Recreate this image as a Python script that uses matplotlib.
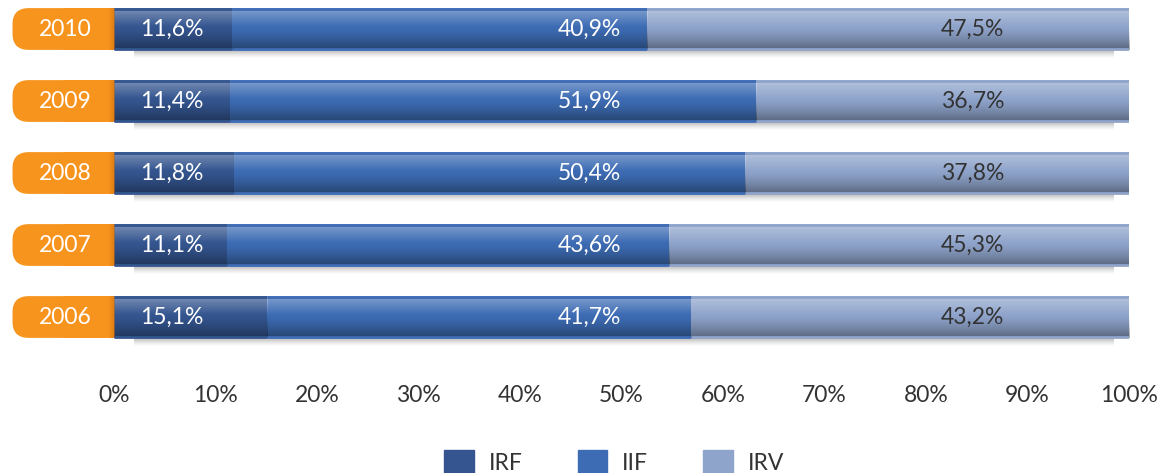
import matplotlib.pyplot as plt
import numpy as np
from matplotlib.patches import FancyBboxPatch, Patch
from matplotlib.colors import to_rgb

years = ['2006', '2007', '2008', '2009', '2010']
irf = [15.1, 11.1, 11.8, 11.4, 11.6]
iif = [41.7, 43.6, 50.4, 51.9, 40.9]
irv = [43.2, 45.3, 37.8, 36.7, 47.5]
series_names = ['IRF', 'IIF', 'IRV']
colors = ['#34558f', '#3d6cb4', '#8fa4cb']
label_colors = ['white', 'white', '#333333']
label_x = [5.7, 46.8, 84.6]
orange = '#f7941d'

plt.rcParams['font.family'] = ['Lato', 'DejaVu Sans']
fs = 16.5

fig = plt.figure(figsize=(11.61, 4.73), dpi=100)
ax = fig.add_axes([12 / 1161, 1 - 353 / 473, 1117 / 1161, 352.8 / 473])

h = 0.58


def gradient_overlay(x0, x1, yc):
    # light top, dark bottom
    n = 64
    t = np.linspace(0, 1, n)
    img = np.zeros((n, 1, 4))
    top = np.clip(1 - t / 0.45, 0, 1)
    bot = np.clip((t - 0.45) / 0.55, 0, 1)
    img[:, 0, :3] = np.where(top[:, None] > 0, 1.0, 0.0)
    img[:, 0, 3] = 0.35 * top + 0.38 * bot ** 1.3
    ax.imshow(img, extent=(x0, x1, yc - h / 2, yc + h / 2), aspect='auto',
              origin='upper', zorder=3, interpolation='bilinear')


def shadow(x0, x1, yc):
    n = 32
    t = np.linspace(0, 1, n)
    img = np.zeros((n, 1, 4))
    img[:, 0, :3] = 0.35
    img[:, 0, 3] = 0.5 * (1 - t) ** 1.5
    ax.imshow(img, extent=(x0, x1, yc - h / 2 - 0.13, yc - h / 2), aspect='auto',
              origin='upper', zorder=1, interpolation='bilinear')


data = [irf, iif, irv]
for i, year in enumerate(years):
    shadow(2, 98.5, i)
    left = 0
    for s in range(3):
        v = data[s][i]
        ax.barh(i, v, left=left, height=h, color=colors[s], edgecolor='none', zorder=2)
        gradient_overlay(left, left + v, i)
        # thin edge lines top and bottom
        ax.plot([left, left + v], [i + h / 2 - 0.012] * 2, color=colors[s], lw=2, zorder=4,
                solid_capstyle='butt')
        ax.plot([left, left + v], [i - h / 2 + 0.012] * 2, color=colors[s], lw=2, zorder=4,
                solid_capstyle='butt')
        ax.text(label_x[s], i, f'{v:.1f}%'.replace('.', ','), ha='center', va='center',
                color=label_colors[s], fontsize=fs, zorder=5)
        left += v

    # orange year tab
    tab = FancyBboxPatch((-10.0, i - h / 2), 10.0, h,
                         boxstyle='round,pad=0,rounding_size=1.6',
                         mutation_aspect=0.14, facecolor=orange, edgecolor='none', zorder=2)
    ax.add_patch(tab)
    ax.barh(i, 5, left=-5, height=h, color=orange, zorder=2)
    n = 32
    g = np.zeros((1, n, 4))
    g[0, :, :3] = to_rgb('#c8690a')
    g[0, :, 3] = np.clip((np.linspace(0, 1, n) - 0.4) / 0.6, 0, 1) * 0.6
    ax.imshow(g, extent=(-1.0, 0, i - h / 2, i + h / 2), aspect='auto', zorder=3,
              interpolation='bilinear')
    ax.text(-4.8, i, year, ha='center', va='center', color='white', fontsize=fs, zorder=5)

ax.set_xlim(-10.05, 100)
ax.set_ylim(-0.5, 4.4)
ax.set_xticks(np.arange(0, 101, 10))
ax.set_xticklabels([f'{v}%' for v in range(0, 101, 10)], fontsize=fs, color='#333333')
ax.tick_params(axis='x', length=0, pad=23)
ax.set_yticks([])
for sp in ax.spines.values():
    sp.set_visible(False)

handles = [Patch(facecolor=c, edgecolor=c) for c in colors]
fig.legend(handles, series_names, loc='center', bbox_to_anchor=(0.529, 0.022), ncol=3,
           frameon=False, fontsize=fs, handlelength=1.3, handleheight=1.3,
           handletextpad=0.65, columnspacing=2.4, labelcolor='#333333')

fig.savefig('out.png', dpi=100)
